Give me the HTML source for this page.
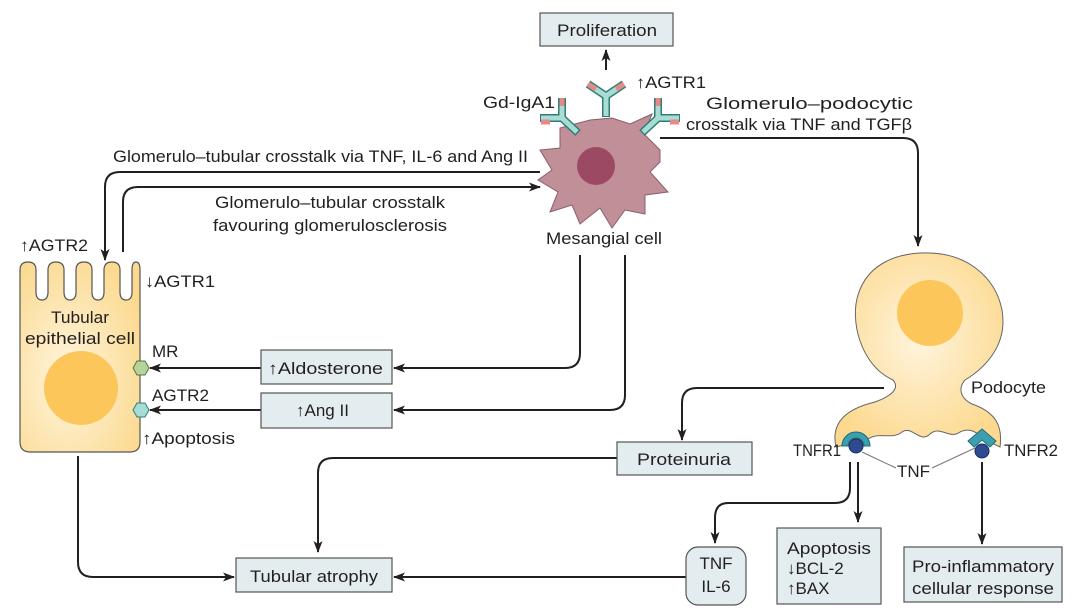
<!DOCTYPE html>
<html><head><meta charset="utf-8"><style>
html,body{margin:0;padding:0;background:#fff;}
svg{display:block;font-family:"Liberation Sans","DejaVu Sans",sans-serif;}
text{fill:#231f20;font-size:17px;}
</style></head><body>
<svg width="1080" height="612" viewBox="0 0 1080 612" xmlns="http://www.w3.org/2000/svg">
<defs>
<marker id="a" markerWidth="14" markerHeight="12" refX="11" refY="6" orient="auto" markerUnits="userSpaceOnUse"><path d="M0,1.5 L12,6 L0,10.5 L3,6 Z" fill="#231f20"/></marker>
<radialGradient id="cellg" cx="0.4" cy="0.6" r="0.7"><stop offset="0" stop-color="#fff5de"/><stop offset="1" stop-color="#fbd98e"/></radialGradient>
<radialGradient id="podg" cx="0.5" cy="0.45" r="0.6"><stop offset="0" stop-color="#fff4dc"/><stop offset="1" stop-color="#fcd98f"/></radialGradient>
</defs>
<path d="M893 380 C860 365 850 320 858 295 C868 262 900 252 930 253 C965 254 995 275 1002 310 C1008 345 985 368 965 380 C958 388 960 398 972 404 C995 412 1003 425 1000 447 L985 440 C975 430 968 428 960 432 C950 440 940 425 930 434 C920 444 912 425 902 432 C892 440 880 432 870 438 L836 447 C830 420 850 408 875 402 C892 396 900 388 893 380 Z" fill="url(#podg)" stroke="#666" stroke-width="1"/>
<circle cx="930" cy="313" r="33" fill="#fcc65a"/>
<g fill="none" stroke="#231f20" stroke-width="2">
<path d="M540 172 H120 Q105 172 105 187 V260" marker-end="url(#a)"/>
<path d="M123 252 V202 Q123 187 138 187 H540" marker-end="url(#a)"/>
<path d="M660 138 H903 Q918 138 918 153 V246" marker-end="url(#a)"/>
<path d="M580 255 V353 Q580 368 565 368 H394" marker-end="url(#a)"/>
<path d="M625 255 V395 Q625 410 610 410 H394" marker-end="url(#a)"/>
<path d="M261 368 H150" marker-end="url(#a)"/>
<path d="M261 410 H150" marker-end="url(#a)"/>
<path d="M606 70 V50" marker-end="url(#a)"/>
<path d="M884 388 H697 Q682 388 682 403 V440" marker-end="url(#a)"/>
<path d="M617 458 H333 Q318 458 318 473 V552" marker-end="url(#a)"/>
<path d="M78 456 V562 Q78 577 93 577 H234" marker-end="url(#a)"/>
<path d="M686 577 H394" marker-end="url(#a)"/>
<path d="M850 462 V488 Q850 503 835 503 H728 Q715 503 715 518 V543" marker-end="url(#a)"/>
<path d="M858 462 V522" marker-end="url(#a)"/>
<path d="M982 462 V544" marker-end="url(#a)"/>
</g>
<g fill="#e3ecee" stroke="#555" stroke-width="1.2">
<rect x="540" y="13" width="133" height="33"/>
<rect x="261" y="350" width="131" height="34"/>
<rect x="261" y="393" width="131" height="35"/>
<rect x="617" y="442" width="135" height="33"/>
<rect x="236" y="558" width="156" height="34"/>
<rect x="686" y="547" width="60" height="58" rx="12"/>
<rect x="777" y="528" width="104" height="76"/>
<rect x="904" y="547" width="158" height="55"/>
</g>
<g lengthAdjust="spacingAndGlyphs">
<text lengthAdjust="spacingAndGlyphs" x="557" y="36" textLength="100">Proliferation</text>
<text lengthAdjust="spacingAndGlyphs" x="268" y="374" textLength="115">↑Aldosterone</text>
<text x="296" y="416">↑Ang II</text>
<text lengthAdjust="spacingAndGlyphs" x="637" y="465" textLength="94">Proteinuria</text>
<text lengthAdjust="spacingAndGlyphs" x="250" y="582" textLength="128">Tubular atrophy</text>
<text x="716" y="569" text-anchor="middle">TNF</text>
<text x="716" y="592" text-anchor="middle">IL-6</text>
<text lengthAdjust="spacingAndGlyphs" x="787" y="554" textLength="84">Apoptosis</text>
<text x="787" y="574">↓BCL-2</text>
<text x="787" y="594">↑BAX</text>
<text lengthAdjust="spacingAndGlyphs" x="912" y="572" textLength="142">Pro-inflammatory</text>
<text lengthAdjust="spacingAndGlyphs" x="912" y="594" textLength="142">cellular response</text>
<text lengthAdjust="spacingAndGlyphs" x="113" y="162" textLength="415">Glomerulo–tubular crosstalk via TNF, IL-6 and Ang II</text>
<text lengthAdjust="spacingAndGlyphs" x="215" y="208" textLength="230">Glomerulo–tubular crosstalk</text>
<text lengthAdjust="spacingAndGlyphs" x="213" y="231" textLength="234">favouring glomerulosclerosis</text>
<text lengthAdjust="spacingAndGlyphs" x="706" y="109" textLength="207">Glomerulo–podocytic</text>
<text lengthAdjust="spacingAndGlyphs" x="686" y="130" textLength="226">crosstalk via TNF and TGFβ</text>
<text lengthAdjust="spacingAndGlyphs" x="483" y="108" textLength="72">Gd-IgA1</text>
<text lengthAdjust="spacingAndGlyphs" x="636" y="88" textLength="70">↑AGTR1</text>
<text lengthAdjust="spacingAndGlyphs" x="546" y="244" textLength="116">Mesangial cell</text>
<text lengthAdjust="spacingAndGlyphs" x="20" y="251" textLength="68">↑AGTR2</text>
<text lengthAdjust="spacingAndGlyphs" x="145" y="287" textLength="70">↓AGTR1</text>
<text x="152" y="357">MR</text>
<text lengthAdjust="spacingAndGlyphs" x="152" y="401" textLength="57">AGTR2</text>
<text lengthAdjust="spacingAndGlyphs" x="142" y="444" textLength="93">↑Apoptosis</text>
<text lengthAdjust="spacingAndGlyphs" x="971" y="393" textLength="75">Podocyte</text>
<text lengthAdjust="spacingAndGlyphs" x="793" y="456" textLength="48">TNFR1</text>
<text lengthAdjust="spacingAndGlyphs" x="1004" y="456" textLength="54">TNFR2</text>
<text lengthAdjust="spacingAndGlyphs" x="897" y="477" textLength="33">TNF</text>
</g>
<path d="M862 452 L896 468 M932 468 L975 448" stroke="#777" stroke-width="1" fill="none"/>
<path d="M20 270 Q20 262 28 262 Q36 262 36 270 V292 Q36 300 42 300 Q48 300 48 292 V270 Q48 262 56 262 Q64 262 64 270 V292 Q64 300 70 300 Q76 300 76 292 V270 Q76 262 84 262 Q92 262 92 270 V292 Q92 300 98 300 Q104 300 104 292 V270 Q104 262 112 262 Q120 262 120 270 V292 Q120 300 126 300 Q132 300 132 292 V270 Q132 262 136 262 Q140 262 140 270 V442 Q140 452 130 452 H30 Q20 452 20 442 Z" fill="url(#cellg)" stroke="#555" stroke-width="1.2"/>
<text lengthAdjust="spacingAndGlyphs" x="51" y="323" textLength="58">Tubular</text>
<text lengthAdjust="spacingAndGlyphs" x="25" y="344" textLength="110">epithelial cell</text>
<circle cx="81" cy="388" r="37" fill="#fcc65a"/>
<polygon points="133,368 137,361 145,361 149,368 145,375 137,375" fill="#b6d39a" stroke="#4e7a3a" stroke-width="1"/>
<polygon points="133,410 137,403 145,403 149,410 145,417 137,417" fill="#a7dbd6" stroke="#2f7f7a" stroke-width="1"/>
<path d="M560 128 L590 120 L612 118 L630 124 L652 114 L644 134 L660 150 L660 162 L650 172 L668 192 L645 195 L645 214 L625 210 L612 228 L600 208 L580 224 L572 205 L550 212 L558 192 L538 180 L552 170 L540 150 L560 148 Z" fill="#c18f98" stroke="#8a5f68" stroke-width="1"/>
<circle cx="596" cy="166" r="19" fill="#9c4a63"/>
<g stroke="#2f7f75" stroke-width="8" fill="none">
<path d="M606 117 V96 L588 84 M606 96 L624 84"/>
<path d="M578 133 L562 118 V98 M562 118 H540"/>
<path d="M642 133 L658 118 V98 M658 118 H680"/>
</g>
<g stroke="#a9dcd5" stroke-width="5" fill="none">
<path d="M606 116 V96 L588 84 M606 96 L624 84"/>
<path d="M577 132 L562 118 V98 M562 118 H541"/>
<path d="M643 132 L658 118 V98 M658 118 H679"/>
</g>
<g stroke="#e58a86" stroke-width="5">
<path d="M588 84 L596 89 M624 84 L616 89"/>
<path d="M562 98 V106 M541 122 H550"/>
<path d="M658 98 V106 M679 122 H670"/>
</g>
<path d="M842 446 A14 14 0 0 1 870 446 L864 446 A8 8 0 0 0 848 446 Z" fill="#3c9fb0" stroke="#1d6c7a"/>
<circle cx="856" cy="446" r="7" fill="#2d4b8e" stroke="#1a2e60"/>
<path d="M968 441 L982 429 L996 441 L990 447 L982 440 L974 447 Z" fill="#3c9fb0" stroke="#1d6c7a"/>
<circle cx="982" cy="451" r="7" fill="#2d4b8e" stroke="#1a2e60"/>
</svg>
</body></html>
